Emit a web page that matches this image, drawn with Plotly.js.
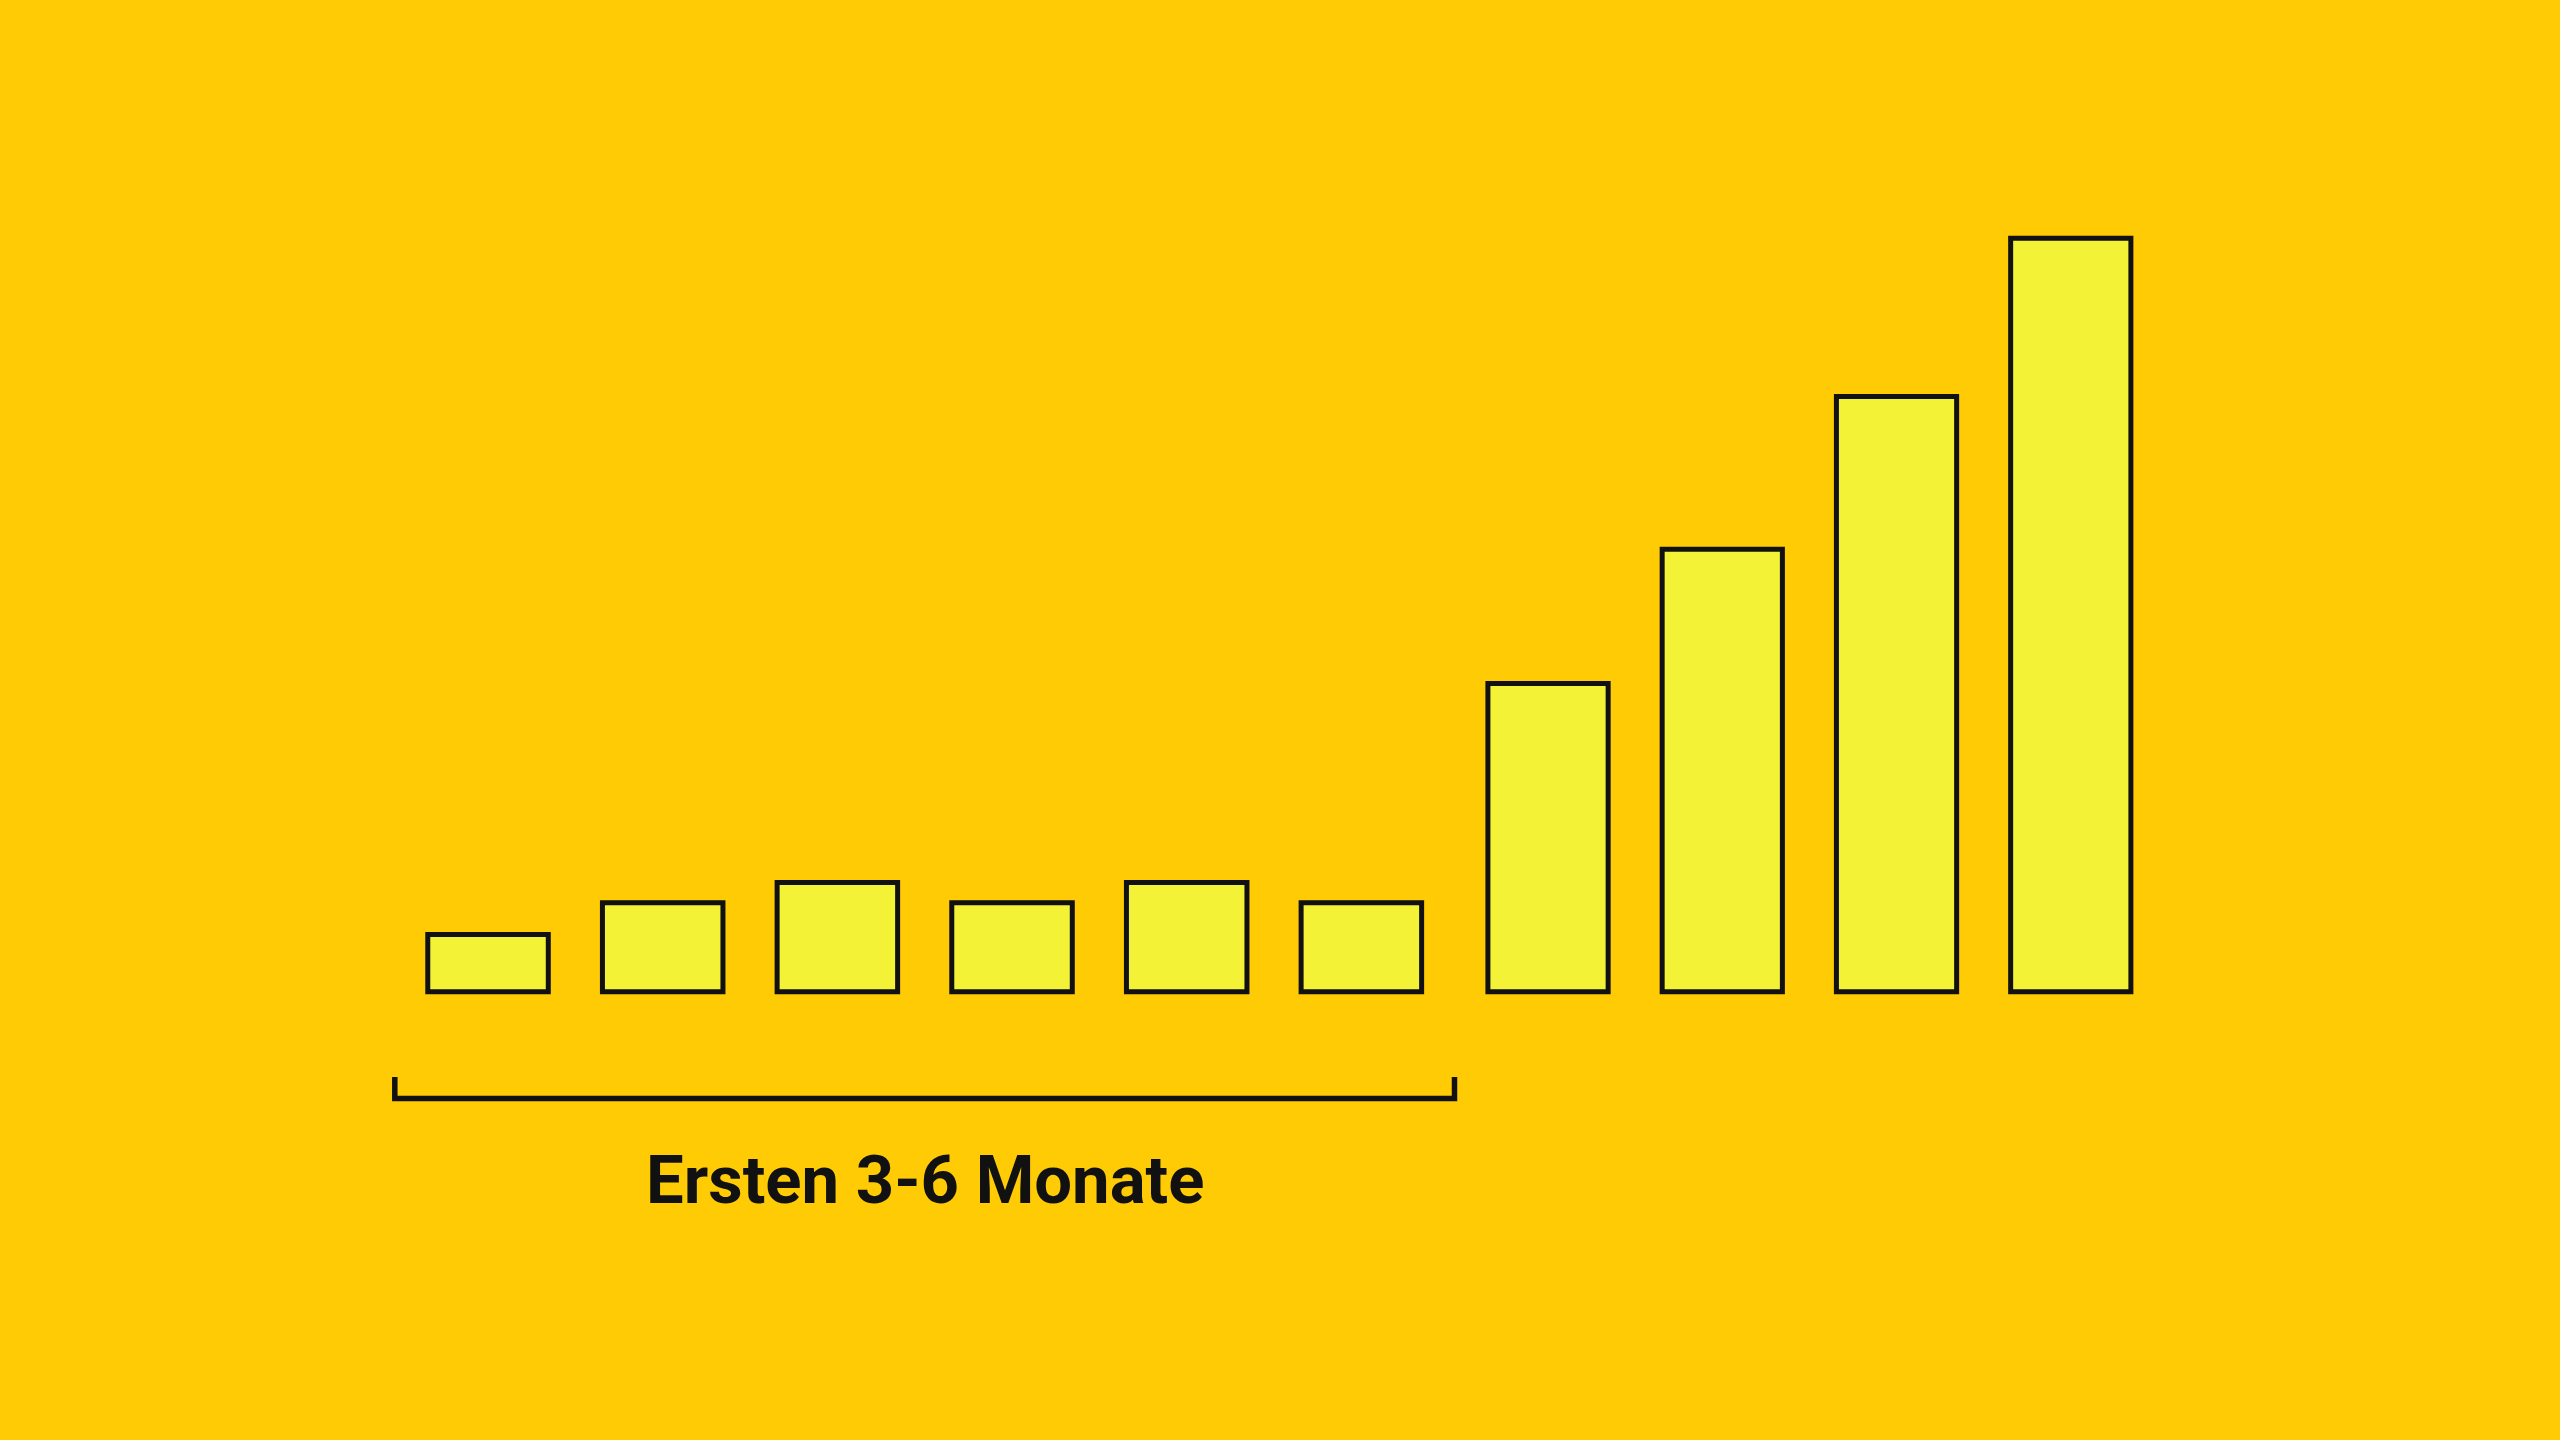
<!DOCTYPE html>
<html>
<head>
<meta charset="utf-8">
<script src="https://cdn.plot.ly/plotly-3.0.1.min.js"></script>
<style>
  html, body { margin: 0; padding: 0; background: #FFCB05; }
  #chart { width: 2560px; height: 1440px; }
</style>
</head>
<body>
<div id="chart"></div>
<script>
// Data
const firstMonths = ["M1", "M2", "M3", "M4", "M5", "M6"];
const firstValues = [7.6, 11.8, 14.5, 11.8, 14.5, 11.8];
const laterMonths = ["M7", "M8", "M9", "M10"];
const laterValues = [40.9, 58.7, 79.0, 100];
const bracketLabel = "Ersten 3-6 Monate";

const BG = "#FFCB05";
const FILL = "#F4F236";
const INK = "#111111";

const barStyle = { color: FILL, line: { color: INK, width: 5 } };

const traces = [
  { type: "bar", x: firstMonths, y: firstValues, xaxis: "x", yaxis: "y",
    marker: barStyle, hoverinfo: "skip", showlegend: false },
  { type: "bar", x: laterMonths, y: laterValues, xaxis: "x2", yaxis: "y",
    marker: barStyle, hoverinfo: "skip", showlegend: false }
];

const hiddenAxis = { showgrid: false, zeroline: false, showline: false, showticklabels: false, ticks: "" };

// bracket geometry (paper coords)
const bx0 = 394.8 / 2560, bx1 = 1454.5 / 2560;
const byB = (1440 - 1098.5) / 1440, byT = (1440 - 1077) / 1440;

const layout = {
  width: 2560, height: 1440,
  margin: { l: 0, r: 0, t: 0, b: 0, pad: 0 },
  paper_bgcolor: BG, plot_bgcolor: BG,
  bargap: 0.31,
  xaxis: Object.assign({ domain: [400.7 / 2560, 1448.7 / 2560], range: [-0.5, 5.5], type: "category", anchor: "y" }, hiddenAxis),
  xaxis2: Object.assign({ domain: [1460.9 / 2560, 2157.9 / 2560], range: [-0.5, 3.5], type: "category", anchor: "y" }, hiddenAxis),
  yaxis: Object.assign({ domain: [(1440 - 1021.8) / 1440, (1440 - 200.5) / 1440], range: [-4, 105] }, hiddenAxis),
  shapes: [
    { type: "path", xref: "paper", yref: "paper",
      path: `M ${bx0},${byT} L ${bx0},${byB} L ${bx1},${byB} L ${bx1},${byT}`,
      line: { color: INK, width: 5.5 } }
  ],
  annotations: [
    { xref: "paper", yref: "paper", x: 925 / 2560, y: (1440 - 1180) / 1440,
      xanchor: "center", yanchor: "middle", showarrow: false,
      text: bracketLabel,
      font: { family: "Roboto, 'Open Sans', sans-serif", size: 67, weight: 700, color: INK } }
  ]
};

Plotly.newPlot("chart", traces, layout, { staticPlot: true, displayModeBar: false });
</script>
</body>
</html>
